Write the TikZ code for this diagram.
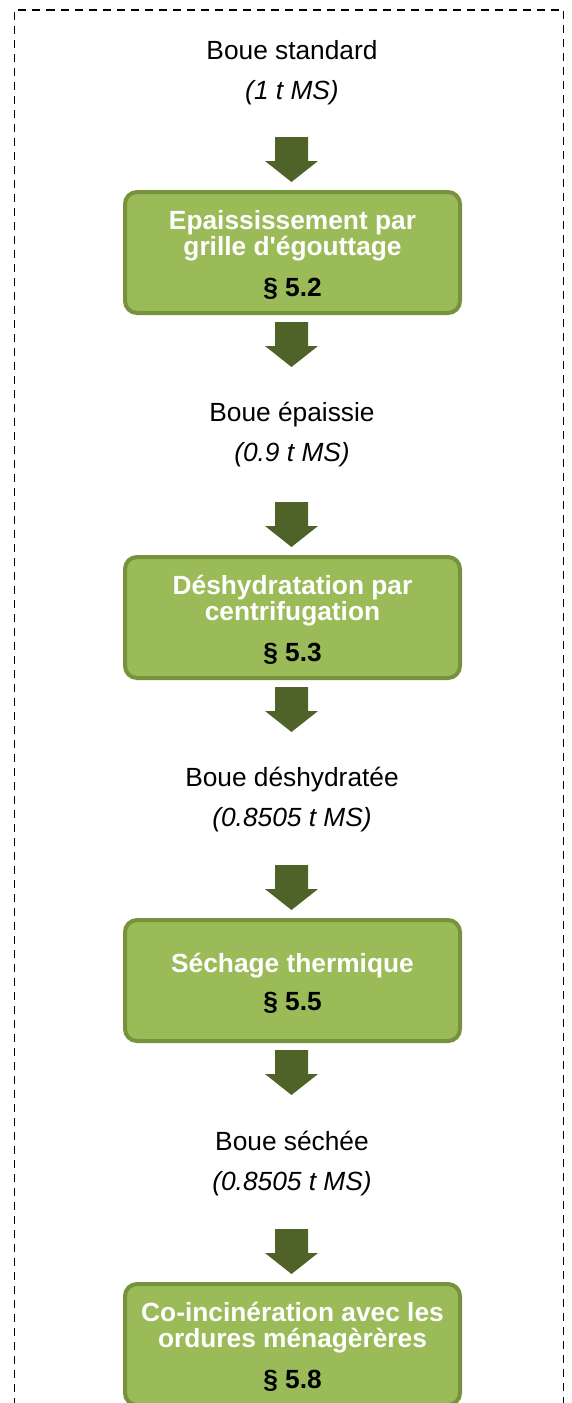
\documentclass[tikz,border=0pt]{standalone}
\usepackage{fontspec}
\setmainfont{Liberation Sans}[Ligatures=TeXOff]
\definecolor{boxfill}{HTML}{9BBB59}
\definecolor{boxedge}{HTML}{76923C}
\definecolor{arrowfill}{HTML}{4F6228}
\tikzset{
  stepbox/.style={draw=boxedge, fill=boxfill, line width=4pt, rounded corners=12pt,
    minimum width=335pt, minimum height=121pt, inner sep=0pt},
  steptext/.style={align=center, inner sep=0pt,
    font=\fontsize{26.3}{26.3}\selectfont\bfseries, text=white},
  flowlabel/.style={align=center, inner sep=0pt, font=\fontsize{26.3}{40}\selectfont},
  flow/.style={fill=arrowfill},
  frame/.style={draw=black, line width=1.8pt, dash pattern=on 8pt off 6pt},
}
% thick block arrow hanging below a named coordinate
\newcommand\flowarrow[1]{%
  \fill[flow, shift={(#1)}] (-16.5,0) -- (16.5,0) -- (16.5,-24) -- (26.5,-24)
    -- (0,-45) -- (-26.5,-24) -- (-16.5,-24) -- cycle;}
\begin{document}
\begin{tikzpicture}[x=1pt, y=1pt]
\useasboundingbox (0,0) rectangle (571,-1403);
\clip (0,0) rectangle (571,-1403);

% dashed frame, open at the bottom
\draw[frame] (14.5,-1420) -- (14.5,-10) -- (563.5,-10) -- (563.5,-1420);

% process steps
\node[stepbox] (b1) at (292.5,-252.5) {};
\node[stepbox] (b2) at (292.5,-617.5) {};
\node[stepbox] (b3) at (292.5,-980.5) {};
\node[stepbox] (b4) at (292.5,-1344.5) {};
\node[steptext] (t1) at ([yshift=-2.5pt]b1.center) {Epaississement par\\grille d'égouttage\\[15pt]{\color{black}§ 5.2}};
\node[steptext] (t2) at ([yshift=-2.5pt]b2.center) {Déshydratation par\\centrifugation\\[15pt]{\color{black}§ 5.3}};
\node[steptext] (t3) at ([yshift=-2.5pt]b3.center) {Séchage thermique\\[12pt]{\color{black}§ 5.5}};
\node[steptext] (t4) at ([yshift=-2.5pt]b4.center) {Co-incinération avec les\\ordures ménagèrères\\[15pt]{\color{black}§ 5.8}};

% sludge states
\node[flowlabel] (s1) at (292,-72.5) {Boue standard\\\textit{(1 t MS)}};
\node[flowlabel] (s2) at (292,-435) {Boue épaissie\\\textit{(0.9 t MS)}};
\node[flowlabel] (s3) at (292,-800) {Boue déshydratée\\\textit{(0.8505 t MS)}};
\node[flowlabel] (s4) at (292,-1163.5) {Boue séchée\\\textit{(0.8505 t MS)}};

% arrows between states and steps
\path (b1.north) ++(-1,53) coordinate (a1);
\path (b1.south) ++(-1,-7) coordinate (a2);
\path (b2.north) ++(-1,53) coordinate (a3);
\path (b2.south) ++(-1,-7) coordinate (a4);
\path (b3.north) ++(-1,53) coordinate (a5);
\path (b3.south) ++(-1,-7) coordinate (a6);
\path (b4.north) ++(-1,53) coordinate (a7);
\foreach \a in {a1,a2,a3,a4,a5,a6,a7} {\flowarrow{\a}}
\end{tikzpicture}
\end{document}
